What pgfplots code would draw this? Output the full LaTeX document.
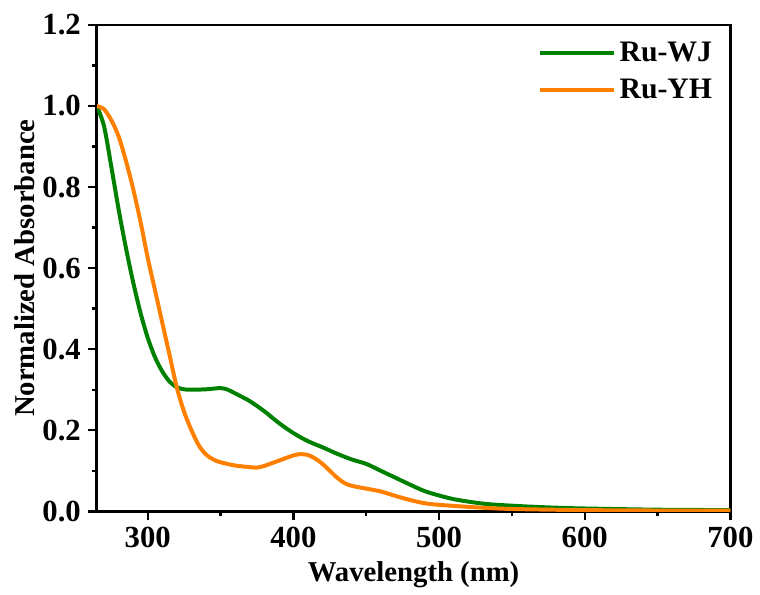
\documentclass[border=0pt]{standalone}
\usepackage{fontspec}
\setmainfont{Liberation Serif}
\usepackage{pgfplots}
\pgfplotsset{compat=1.18}
\definecolor{cgreen}{RGB}{0,128,0}
\definecolor{corange}{RGB}{255,128,0}
\begin{document}
\begin{tikzpicture}
\begin{axis}[
  scale only axis,
  width=318.5bp, height=244.5bp,
  xmin=265, xmax=700, ymin=0, ymax=1.2,
  xtick={300,400,500,600,700},
  minor xtick={350,450,550,650},
  ytick={0,0.2,0.4,0.6,0.8,1.0,1.2},
  minor ytick={0.1,0.3,0.5,0.7,0.9,1.1},
  yticklabel style={/pgf/number format/.cd,fixed,fixed zerofill,precision=1},
  /pgf/number format/assume math mode=true,
  tick align=outside,
  xtick pos=bottom, ytick pos=left,
  major tick length=4.5bp, minor tick length=2.5bp,
  every tick/.style={black, line width=1.2bp},
  axis line style={line width=1.3bp},
  ticklabel style={font=\fontsize{15.5}{18}\selectfont\bfseries},
  xlabel={Wavelength (nm)},
  ylabel={Normalized Absorbance},
  ylabel shift=-3bp,
  label style={font=\fontsize{14.5}{17}\selectfont\bfseries},
  legend style={draw=none, fill=none, at={(1,1)}, anchor=north east,
    xshift=-4bp, yshift=-4.5bp,
    font=\fontsize{15}{18}\selectfont\bfseries, row sep=3bp,
    cells={anchor=west}},
  legend image code/.code={\draw[#1, line width=2bp] (0bp,0bp) -- (37bp,0bp);},
]
\addplot[cgreen, line width=2bp, smooth] coordinates {
(265,1.0) (270,0.95) (275,0.85) (280,0.745) (285,0.65) (290,0.565) (295,0.49)
(300,0.428) (305,0.38) (310,0.345) (315,0.32) (320,0.306) (325,0.301) (330,0.30)
(340,0.301) (350,0.304) (355,0.30) (360,0.291) (370,0.272) (380,0.247) (390,0.218)
(400,0.193) (410,0.173) (420,0.158) (430,0.142) (440,0.128) (450,0.117) (460,0.10)
(470,0.083) (480,0.066) (490,0.05) (500,0.039) (510,0.03) (520,0.024) (530,0.019)
(540,0.016) (560,0.012) (580,0.009) (600,0.007) (650,0.004) (700,0.003)
};
\addlegendentry{Ru-WJ}
\addplot[corange, line width=2bp, smooth] coordinates {
(265,1.0) (270,0.992) (275,0.965) (280,0.925) (285,0.865) (290,0.795) (295,0.715)
(300,0.625) (305,0.545) (310,0.465) (315,0.385) (320,0.305) (325,0.245) (330,0.2)
(335,0.163) (340,0.14) (345,0.128) (350,0.121) (360,0.113) (370,0.109) (375,0.108)
(380,0.112) (390,0.125) (400,0.138) (405,0.141) (410,0.139) (415,0.13) (420,0.117)
(425,0.1) (430,0.083) (435,0.07) (440,0.063) (450,0.056) (460,0.049) (470,0.038)
(480,0.028) (490,0.02) (500,0.016) (520,0.011) (540,0.007) (560,0.005) (600,0.003)
(650,0.002) (700,0.002)
};
\addlegendentry{Ru-YH}
\end{axis}
\path (current bounding box.north west) ++(-4bp,4bp);
\end{tikzpicture}
\end{document}
